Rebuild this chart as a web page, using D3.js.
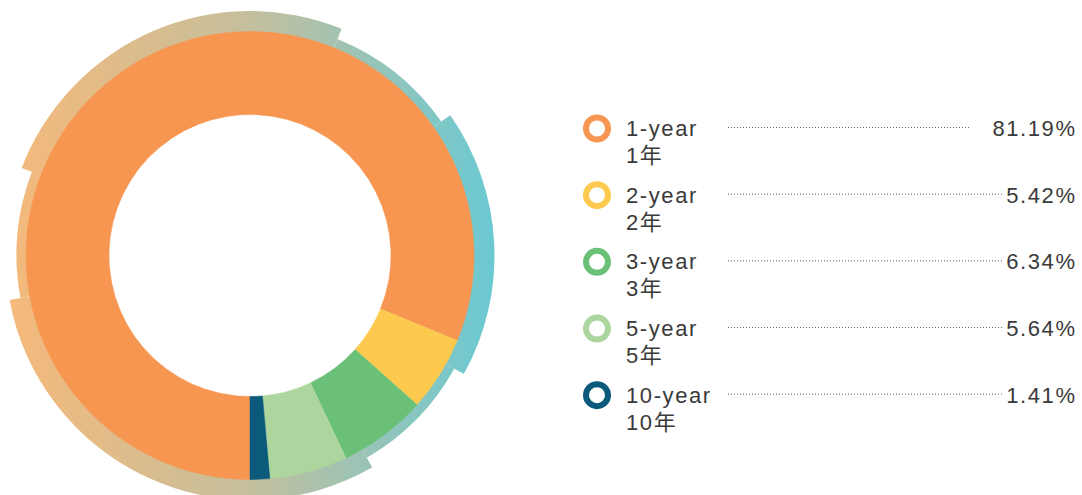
<!DOCTYPE html>
<html>
<head>
<meta charset="utf-8">
<script src="https://cdn.jsdelivr.net/npm/d3@7"></script>
<style>
  body { margin: 0; background: #fff; }
  text { font-family: "Liberation Sans", "Noto Sans CJK SC", sans-serif; }
</style>
</head>
<body>
<div id="root"></div>
<script>
var width = 1082;
var height = 495;

var categories = ['1-year', '2-year', '3-year', '5-year', '10-year'];
var categoriesZh = ['1年', '2年', '3年', '5年', '10年'];
var values = [81.19, 5.42, 6.34, 5.64, 1.41];
var valueLabels = ['81.19%', '5.42%', '6.34%', '5.64%', '1.41%'];
var colors = ['#f69651', '#fdca4f', '#6bc078', '#acd69d', '#0b5a7c'];

// decorative stepped ring behind the donut (degrees, clockwise from top)
var ringBreaks = [22, 55, 119, 150, 259.5, 291, 382];
var ringLevels = [0, 1, 0, 1, 0, 1];

var svg = d3.select('#root')
    .append('svg')
    .attr('width', width).attr('height', height);

var cx = 250, cy = 255.5;

var grad = svg.append('defs').append('linearGradient')
    .attr('id', 'ringGrad')
    .attr('gradientUnits', 'userSpaceOnUse')
    .attr('x1', cx - 245).attr('y1', 0)
    .attr('x2', cx + 245).attr('y2', 0);
grad.append('stop').attr('offset', '0%').attr('stop-color', '#f6b97a');
grad.append('stop').attr('offset', '50%').attr('stop-color', '#c4bf9d');
grad.append('stop').attr('offset', '100%').attr('stop-color', '#6ac9d3');

var ringRadius = d3.scaleOrdinal().domain([0, 1]).range([233.5, 244.5]);
var deg = d3.scaleLinear().domain([0, 360]).range([0, 2 * Math.PI]);

// ring drawn in svg coords so the gradient runs left to right across it
svg.append('g')
    .selectAll('.ring')
    .data(ringLevels.map(function (l, i) { return { level: l, start: ringBreaks[i], end: ringBreaks[i + 1] }; }))
    .enter().append('path')
    .attr('class', 'ring')
    .attr('d', function (d) {
        var p = d3.path();
        var r0 = 200, r1 = ringRadius(d.level);
        var a0 = deg(d.start) - Math.PI / 2, a1 = deg(d.end) - Math.PI / 2;
        p.arc(cx, cy, r1, a0, a1);
        p.arc(cx, cy, r0, a1, a0, true);
        p.closePath();
        return p.toString();
    })
    .attr('fill', 'url(#ringGrad)');

var g = svg.append('g').attr('transform', 'translate(' + cx + ',' + cy + ')');
var pie = d3.pie().sort(null).startAngle(Math.PI).endAngle(3 * Math.PI);
var arc = d3.arc().innerRadius(141).outerRadius(224);

g.selectAll('.slice')
    .data(pie(values)).enter()
    .append('path')
    .attr('class', 'slice')
    .attr('d', arc)
    .attr('fill', function (d, i) { return colors[i]; })
    .attr('stroke', function (d, i) { return colors[i]; })
    .attr('stroke-width', 0.5);

// legend
var rowY = d3.scaleLinear().domain([0, 4]).range([136, 402.7]);
var fs = 22, ls = 1.6;
var rows = svg.selectAll('.row')
    .data(categories).enter()
    .append('g')
    .attr('class', 'row')
    .attr('transform', function (d, i) { return 'translate(0,' + rowY(i) + ')'; });

rows.append('circle')
    .attr('cx', 597).attr('cy', -7.5).attr('r', 11)
    .attr('fill', 'none')
    .attr('stroke', function (d, i) { return colors[i]; })
    .attr('stroke-width', 6);

rows.append('text')
    .attr('x', 626).attr('y', 0)
    .attr('font-size', fs).attr('letter-spacing', ls)
    .attr('fill', '#3a3a3a')
    .text(function (d) { return d; });

rows.append('text')
    .attr('x', 626).attr('y', 27)
    .attr('font-size', fs).attr('letter-spacing', ls)
    .attr('fill', '#3a3a3a')
    .text(function (d, i) { return categoriesZh[i]; });

var vals = rows.append('text')
    .attr('x', 1075 + ls).attr('y', 0)
    .attr('text-anchor', 'end')
    .attr('font-size', fs).attr('letter-spacing', ls)
    .attr('fill', '#3a3a3a')
    .text(function (d, i) { return valueLabels[i]; });

rows.append('line')
    .attr('x1', 728)
    .attr('x2', function (d, i) {
        var bx = vals.nodes()[i].getBBox().x;
        return bx < 995 ? bx - 22 : Math.min(bx - 1, 1002);
    })
    .attr('y1', -8.5).attr('y2', -8.5)
    .attr('stroke', '#666')
    .attr('stroke-width', 1)
    .attr('stroke-dasharray', '1,2');
</script>
</body>
</html>
